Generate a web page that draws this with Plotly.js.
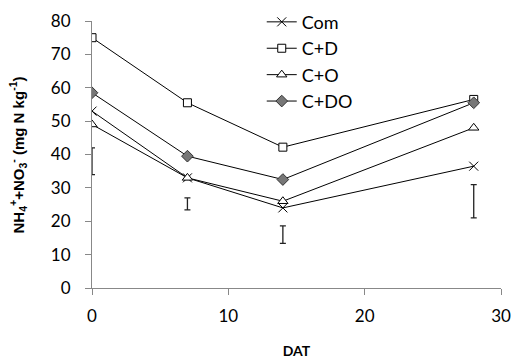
<!DOCTYPE html>
<html><head><meta charset="utf-8">
<script src="https://cdn.plot.ly/plotly-3.0.1.min.js"></script>
<style>html,body{margin:0;padding:0;background:#fff}#c{width:513px;height:361px}</style>
</head><body><div id="c"></div>
<script>
const days = [0, 7, 14, 28];
const com = [53, 33, 24, 36.5];
const cd = [75, 55.5, 42.2, 56.5];
const co = [49, 33, 26, 48];
const cdo = [58.5, 39.5, 32.5, 55.5];
const errCenter = [38, 25.2, 16, 26];
const errHalf = [4, 1.8, 2.6, 5];
const names = ['Com', 'C+D', 'C+O', 'C+DO'];
const yTitle = '<b>NH<sub>4</sub><sup>+</sup>+NO<sub>3</sub><sup>-</sup> (mg N kg<sup>-1</sup>)</b>';

const line = {color: '#000', width: 1};
const traces = [
  {x: days, y: com, name: names[0], mode: 'lines+markers', line: line,
   marker: {symbol: 'x-thin', size: 9, line: {color: '#000', width: 1}}},
  {x: days, y: cd, name: names[1], mode: 'lines+markers', line: line,
   marker: {symbol: 'square', size: 8, color: '#fff', line: {color: '#000', width: 1}}},
  {x: days, y: co, name: names[2], mode: 'lines+markers', line: line,
   marker: {symbol: 'triangle-up', size: 9, color: '#fff', line: {color: '#000', width: 1}}},
  {x: days, y: cdo, name: names[3], mode: 'lines+markers', line: line,
   marker: {symbol: 'diamond', size: 9, color: '#777', line: {color: '#333', width: 1}}},
  {x: days, y: errCenter, mode: 'markers', showlegend: false, hoverinfo: 'skip',
   marker: {size: 1, opacity: 0},
   error_y: {type: 'data', array: errHalf, visible: true, color: '#222', thickness: 1.3, width: 3}}
];

const layout = {
  width: 513, height: 361,
  margin: {l: 92, r: 12, t: 21, b: 73, autoexpand: false},
  paper_bgcolor: '#fff', plot_bgcolor: '#fff',
  font: {family: 'Lato, "Open Sans", sans-serif', size: 17, color: '#000'},
  showlegend: true,
  legend: {x: 0.415, y: 1.065, xanchor: 'left', yanchor: 'top', bgcolor: 'rgba(0,0,0,0)',
    font: {size: 18}, tracegroupgap: 0, itemwidth: 30},
  xaxis: {range: [0, 30], tickvals: [0, 10, 20, 30], showgrid: false, zeroline: false,
    showline: true, linecolor: '#888', linewidth: 1, ticks: 'outside', ticklen: 6, tickcolor: '#888',
    ticklabelstandoff: 7,
    title: {text: '<b>DAT</b>', font: {family: 'Lato, sans-serif', size: 14}, standoff: 20}},
  yaxis: {range: [0, 80], tickvals: [0, 10, 20, 30, 40, 50, 60, 70, 80], showgrid: false, zeroline: false,
    showline: true, linecolor: '#888', linewidth: 1, ticks: 'outside', ticklen: 6, tickcolor: '#888',
    ticklabelstandoff: 11},
  annotations: [{text: yTitle, xref: 'paper', yref: 'paper', x: -0.181, y: 0.5,
    xanchor: 'center', yanchor: 'middle', textangle: -90, showarrow: false,
    font: {family: '"Liberation Sans", Arial, sans-serif', size: 15, color: '#000'}}]
};
Plotly.newPlot('c', traces, layout, {staticPlot: true, displayModeBar: false});
</script></body></html>
